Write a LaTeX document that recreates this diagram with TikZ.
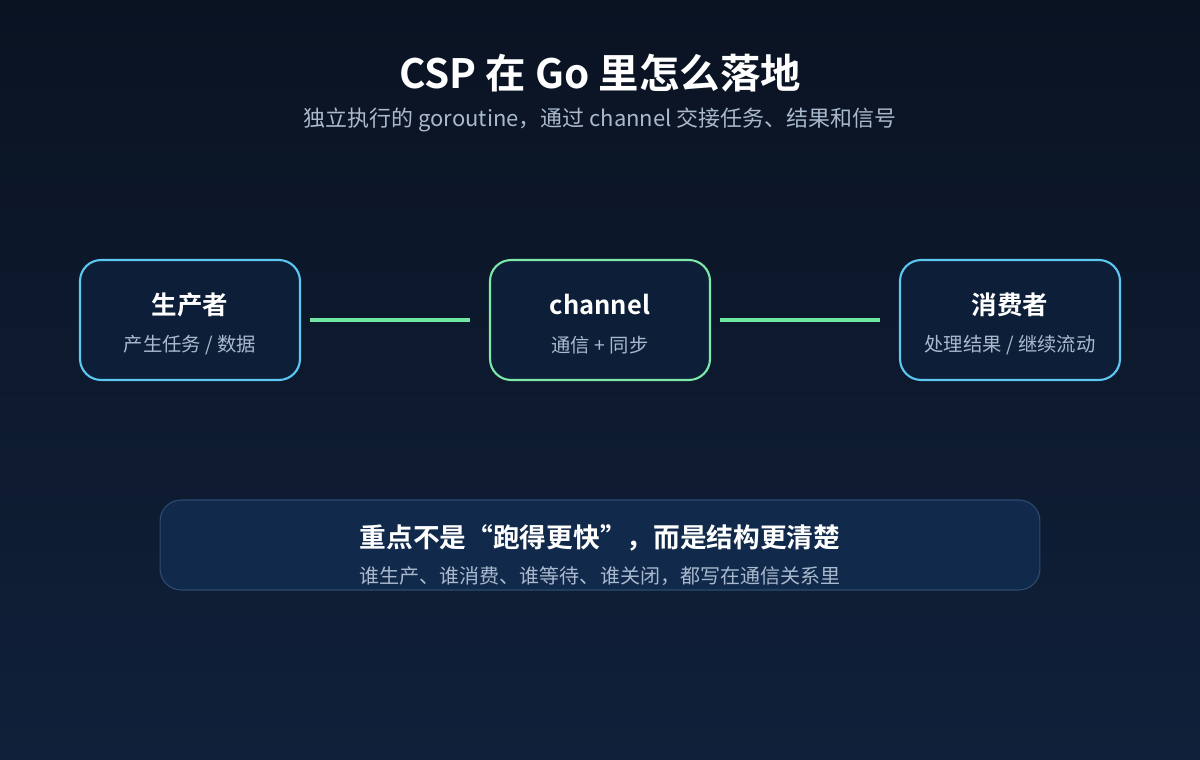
\documentclass[tikz,border=0pt]{standalone}
\usepackage{fontspec}
\setmainfont{Noto Sans CJK SC}[BoldFont={Noto Sans CJK SC Bold}]
\usetikzlibrary{positioning}
\definecolor{bgtop}{HTML}{0A1322}
\definecolor{bgbot}{HTML}{10203A}
\definecolor{boxfill}{HTML}{0D1F38}
\definecolor{edgeblue}{HTML}{5CC8F2}
\definecolor{edgegreen}{HTML}{7EE8A8}
\definecolor{linkgreen}{HTML}{6EE7A0}
\definecolor{subtext}{HTML}{A9B9CE}
\definecolor{notefill}{HTML}{11294A}
\definecolor{noteedge}{HTML}{2C4C70}

\begin{document}
\begin{tikzpicture}[x=0.02cm, y=-0.02cm,
    role/.style = {rectangle, rounded corners=12pt, line width=1.2pt, fill=boxfill,
                   minimum width=4.4cm, minimum height=2.4cm},
    sender/.style = {role, draw=edgeblue},
    pipe/.style = {role, draw=edgegreen},
    link/.style = {line width=2.4pt, draw=linkgreen},
    head/.style = {text=white, font=\fontsize{14.5}{17}\selectfont\bfseries},
    sub/.style = {text=subtext, font=\fontsize{11}{13}\selectfont},
]
    % background
    \shade[top color=bgtop, bottom color=bgbot] (0,0) rectangle (1200,760);
    \useasboundingbox (0,0) rectangle (1200,760);

    % title
    \node[text=white, font=\fontsize{23}{27}\selectfont\bfseries] (title) at (600,73) {CSP 在 Go 里怎么落地};
    \node[sub, font=\fontsize{12.5}{15}\selectfont] (subtitle) at (600,120) {独立执行的 goroutine，通过 channel 交接任务、结果和信号};

    % roles
    \node[sender] (producer) at (190,320) {};
    \node[pipe] (channel) at (600,320) {};
    \node[sender] (consumer) at (1010,320) {};

    \node[head] at (190,305) {生产者};
    \node[sub] at (190,345) {产生任务 / 数据};
    \node[head] at (600,305) {channel};
    \node[sub] at (600,345) {通信 + 同步};
    \node[head] at (1010,305) {消费者};
    \node[sub] at (1010,345) {处理结果 / 继续流动};

    % links
    \coordinate (l1) at (310,320);
    \coordinate (r1) at (470,320);
    \coordinate (l2) at (720,320);
    \coordinate (r2) at (880,320);
    \draw[link] (l1) -- (r1);
    \draw[link] (l2) -- (r2);

    % note
    \node[rectangle, rounded corners=12pt, draw=noteedge, fill=notefill, line width=0.6pt,
          minimum width=17.6cm, minimum height=1.8cm] (note) at (600,545) {};
    \node[head, font=\fontsize{15.2}{18}\selectfont\bfseries] at (600,538) {重点不是“跑得更快”，而是结构更清楚};
    \node[sub, font=\fontsize{11.4}{14}\selectfont] at (600,576) {谁生产、谁消费、谁等待、谁关闭，都写在通信关系里};
\end{tikzpicture}
\end{document}
